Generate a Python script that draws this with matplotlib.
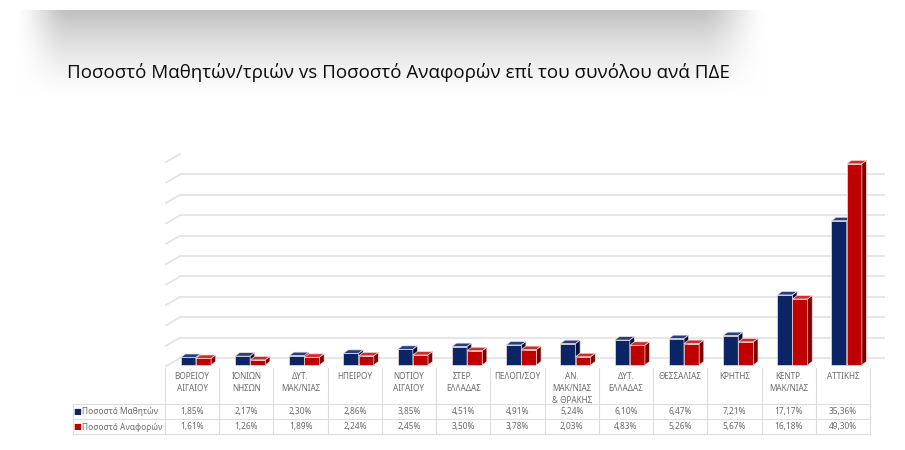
import numpy as np
import matplotlib.pyplot as plt
from matplotlib.patches import Polygon
from matplotlib.transforms import blended_transform_factory

# ---------------------------
# Dados
# ---------------------------
regions = ['ΒΟΡΕΙΟΥ\nΑΙΓΑΙΟΥ', 'ΙΟΝΙΩΝ\nΝΗΣΩΝ', 'ΔΥΤ.\nΜΑΚ/ΝΙΑΣ', 'ΗΠΕΙΡΟΥ',
           'ΝΟΤΙΟΥ\nΑΙΓΑΙΟΥ', 'ΣΤΕΡ.\nΕΛΛΑΔΑΣ', 'ΠΕΛΟΠ/ΣΟΥ',
           'ΑΝ.\nΜΑΚ/ΝΙΑΣ\n& ΘΡΑΚΗΣ', 'ΔΥΤ.\nΕΛΛΑΔΑΣ', 'ΘΕΣΣΑΛΙΑΣ', 'ΚΡΗΤΗΣ',
           'ΚΕΝΤΡ.\nΜΑΚ/ΝΙΑΣ', 'ΑΤΤΙΚΗΣ']
students = [1.85, 2.17, 2.30, 2.86, 3.85, 4.51, 4.91, 5.24, 6.10, 6.47, 7.21, 17.17, 35.36]
reports = [1.61, 1.26, 1.89, 2.24, 2.45, 3.50, 3.78, 2.03, 4.83, 5.26, 5.67, 16.18, 49.30]
series_names = ['Ποσοστό Μαθητών', 'Ποσοστό Αναφορών']
title = 'Ποσοστό Μαθητών/τριών vs Ποσοστό Αναφορών επί του συνόλου ανά ΠΔΕ'

W, H = 905, 450
fig = plt.figure(figsize=(W / 100, H / 100), dpi=100)
fig.patch.set_facecolor('white')


def fy(py):
    return 1 - py / H


# ---------------------------
# faixa cinza do título (decoração)
# ---------------------------
bg = fig.add_axes([0, 0, 1, 1], zorder=-5)
xx = np.arange(W)[None, :]
yy = np.arange(H)[:, None]
t = np.clip((yy - 10) / 88.0, 0, 1)
vert = np.where(yy < 10, 0, (1 - t) ** 1.4)
left = np.clip((xx - 14) / 55.0, 0, 1)
right = np.clip((768 - xx) / 70.0, 0, 1)
horiz = (left * left * (3 - 2 * left)) * (right * right * (3 - 2 * right))
dark = 0.24 * vert * horiz
img = np.ones((H, W, 3)) * (1 - dark)[..., None]
bg.imshow(img, extent=[0, W, H, 0], aspect='auto', interpolation='bilinear')
bg.set_xlim(0, W)
bg.set_ylim(H, 0)
bg.axis('off')

fig.text(67 / W, fy(78), title, fontsize=13.5, family='Open Sans',
         color='#0a0a0a', ha='left', va='baseline')

# ---------------------------
# gráfico
# ---------------------------
n = len(regions)
ax = fig.add_axes([165 / W, fy(370), 705 / W, 220 / H])
ax.set_xlim(-0.5, n - 0.5)
ax.set_ylim(-5 / 4.08, (365 - 150) / 4.08)
ax.axis('off')

wall = 1.72          # deslocamento da parede de fundo (em %)
grid_c = '#e4e4e4'
for v in range(0, 51, 5):
    yb = v + wall
    ax.plot([-0.48, -0.22], [yb - 2.0, yb], color=grid_c, lw=1.3, zorder=1,
            clip_on=False)
    if v < 50:
        ax.plot([-0.22, 12.75], [yb, yb], color=grid_c, lw=1.3, zorder=1,
                clip_on=False)

bw = 0.28
dx, dz = 0.085, 0.85
styles = [
    ('#0a2466', '#23407f', '#02123d'),   # azul: frente, topo, lado
    ('#c00000', '#d42a2a', '#7e0000'),   # vermelho
]
offsets = [-0.21, 0.07]
for k, vals in enumerate([students, reports]):
    front, top, side = styles[k]
    for i, v in enumerate(vals):
        x0 = i + offsets[k]
        x1 = x0 + bw
        ax.add_patch(Polygon([(x0, 0), (x1, 0), (x1, v), (x0, v)],
                             facecolor=front, edgecolor='#f2dede', lw=0.5,
                             zorder=3 + k))
        ax.add_patch(Polygon([(x0, v), (x1, v), (x1 + dx, v + dz), (x0 + dx, v + dz)],
                             facecolor=top, edgecolor='#f2dede', lw=0.5,
                             zorder=3 + k))
        ax.add_patch(Polygon([(x1, 0), (x1 + dx, dz), (x1 + dx, v + dz), (x1, v)],
                             facecolor=side, edgecolor='#f2dede', lw=0.5,
                             zorder=3 + k))

# ---------------------------
# tabela de dados
# ---------------------------
tr = blended_transform_factory(ax.transData, fig.transFigure)
line_c = '#dcdcdc'
txt_c = '#6b6b6b'
for j in range(n + 1):
    ax.plot([j - 0.5, j - 0.5], [fy(368), fy(434)], transform=tr, color=line_c,
            lw=0.8, clip_on=False)
for py in [404, 419, 434]:
    fig.add_artist(plt.Line2D([73 / W, 870 / W], [fy(py), fy(py)], color=line_c, lw=0.8))
fig.add_artist(plt.Line2D([73 / W, 73 / W], [fy(404), fy(434)], color=line_c, lw=0.8))

for i, lab in enumerate(regions):
    ax.text(i, fy(372), lab, transform=tr, ha='center', va='top', fontsize=5.9,
            family='Noto Sans', color=txt_c, linespacing=1.45)

row_y = [411.5, 427]
for k, vals in enumerate([students, reports]):
    fig.text(73 / W, fy(row_y[k]), '■', color=styles[k][0], fontsize=6,
             family='DejaVu Sans', va='center', ha='left')
    fig.text(82 / W, fy(row_y[k]), series_names[k], color=txt_c, fontsize=6,
             family='Noto Sans', va='center', ha='left')
    for i, v in enumerate(vals):
        ax.text(i, fy(row_y[k]), f'{v:.2f}'.replace('.', ',') + '%', transform=tr,
                ha='center', va='center', fontsize=6, family='Noto Sans', color=txt_c)

fig.savefig('out.png', dpi=100)
